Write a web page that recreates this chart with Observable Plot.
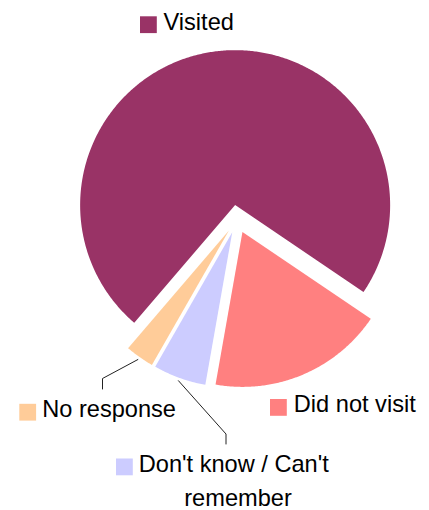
<!DOCTYPE html>
<html><head><meta charset="utf-8">
<script src="https://cdn.jsdelivr.net/npm/d3@7"></script>
<script src="https://cdn.jsdelivr.net/npm/@observablehq/plot@0.6"></script>
<style>body{margin:0;background:#fff}</style>
</head><body><div id="chart"></div>
<script>
// ---- data ----
const categories = ["Visited", "Did not visit", "Don't know / Can't remember", "No response"];
const values = [73.2, 18.3, 5.5, 3.0];
const colors = ["#993366", "#FF8080", "#CCCCFF", "#FFCC99"];
const labelLines = [["Visited"], ["Did not visit"], ["Don't know / Can't", "remember"], ["No response"]];

// ---- layout ----
const W = 429, H = 510;
const cx = 236.5, cy = 218.5, R = 155, explode = 14;
const startDeg = 220.6;
// label anchors: square left/top, text x, baseline y
const labelPos = [
  {sx: 140, sy: 16.3, tx: 163, ty: 29.3},
  {sx: 270, sy: 399, tx: 293.3, ty: 411.7},
  {sx: 116, sy: 458.5, tx: 138.3, ty: 471.7, x2: 237.5, y2: 505.7},
  {sx: 19.3, sy: 403.8, tx: 41.7, ty: 416.7}
];
const leaderElbow = {2: [[225.5, 433.5], [225.5, 443.5]], 3: [[102, 378], [102, 388.5]]};
const sq = 16.8;
const fontSize = 23.6;
const font = "'Liberation Sans', Arial, sans-serif";

const data = categories.map((c, i) => ({category: c, value: values[i]}));
const a0 = startDeg * Math.PI / 180;
const pie = d3.pie().sort(null).value(d => d.value).startAngle(a0).endAngle(a0 + 2 * Math.PI);
const arcs = pie(data);

const pts = [];
const leaders = [];
arcs.forEach((a, i) => {
  const mid = (a.startAngle + a.endAngle) / 2;
  const ox = cx + explode * Math.sin(mid), oy = cy - explode * Math.cos(mid);
  pts.push({category: a.data.category, x: ox, y: oy});
  const n = Math.max(8, Math.ceil((a.endAngle - a.startAngle) / (Math.PI / 360)));
  for (let k = 0; k <= n; k++) {
    const t = a.startAngle + (a.endAngle - a.startAngle) * k / n;
    pts.push({category: a.data.category, x: ox + R * Math.sin(t), y: oy - R * Math.cos(t)});
  }
  if (leaderElbow[i]) {
    const rr = R + 3;
    leaders.push({category: a.data.category, x: ox + rr * Math.sin(mid), y: oy - rr * Math.cos(mid)});
    leaderElbow[i].forEach(([x, y]) => leaders.push({category: a.data.category, x, y}));
  }
});

const labels = categories.map((c, i) => ({category: c, ...labelPos[i], text: labelLines[i][0], text2: labelLines[i][1]}));

const chart = Plot.plot({
  width: W, height: H,
  margin: 0,
  x: {domain: [0, W], range: [0, W], axis: null},
  y: {domain: [0, H], range: [0, H], axis: null},
  color: {domain: categories, range: colors},
  style: {background: "#fff", fontFamily: font},
  marks: [
    Plot.line(pts, {x: "x", y: "y", z: "category", fill: "category", stroke: null, curve: "linear-closed"}),
    Plot.line(leaders, {x: "x", y: "y", z: "category", stroke: "#222", strokeWidth: 1}),
    Plot.rect(labels, {x1: "sx", x2: d => d.sx + sq, y1: "sy", y2: d => d.sy + sq, fill: "category"}),
    Plot.text(labels, {x: "tx", y: "ty", text: "text", textAnchor: "start", lineAnchor: "bottom", fontSize, fontFamily: font, fill: "#000"}),
    Plot.text(labels.filter(d => d.text2), {x: "x2", y: "y2", text: "text2", textAnchor: "middle", lineAnchor: "bottom", fontSize, fontFamily: font, fill: "#000"})
  ]
});
document.getElementById("chart").appendChild(chart);
</script>
</body></html>
